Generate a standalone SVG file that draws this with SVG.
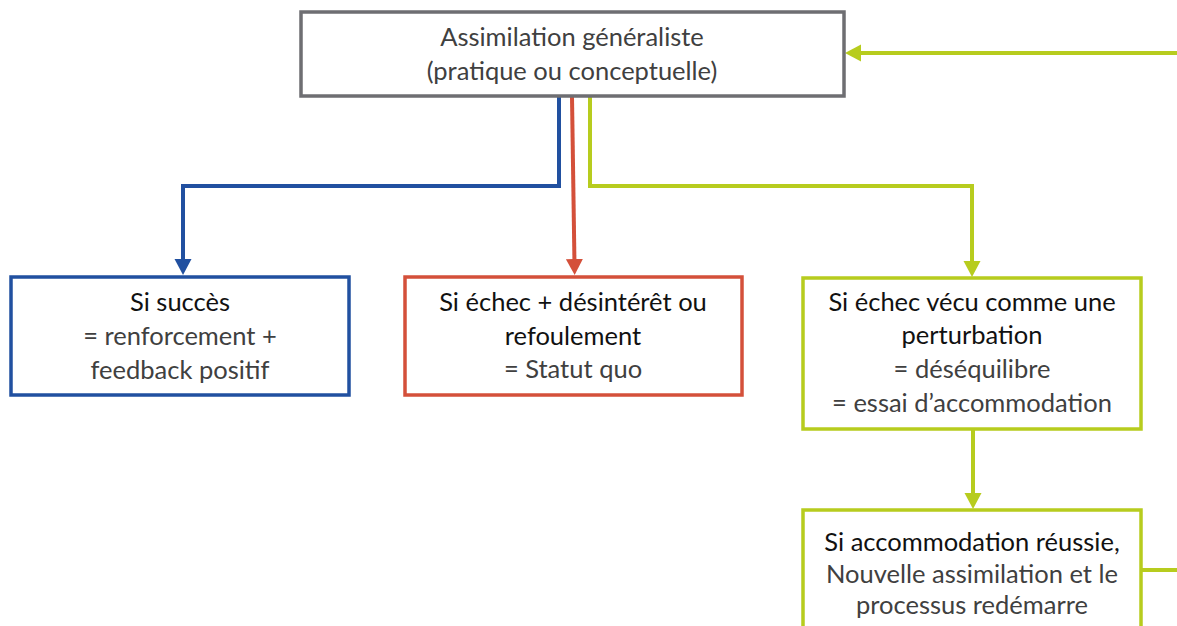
<svg xmlns="http://www.w3.org/2000/svg" width="1177" height="626" viewBox="0 0 1177 626">
<style>
.box{fill:#fff;stroke-width:3.5}
.t{font-family:Lato,"Liberation Sans",sans-serif;font-size:25.5px;text-anchor:middle;fill:#404040}
.h{fill:#111}
.c{fill:none;stroke-width:4}
</style>
<defs>
<marker id="ab" markerUnits="userSpaceOnUse" markerWidth="18" markerHeight="18" refX="6" refY="8.5" orient="auto"><path d="M0,0 L16,8.5 L0,17 z" fill="#2150a0"/></marker>
<marker id="ar" markerUnits="userSpaceOnUse" markerWidth="18" markerHeight="18" refX="6" refY="8.5" orient="auto"><path d="M0,0 L16,8.5 L0,17 z" fill="#d4503a"/></marker>
<marker id="ag" markerUnits="userSpaceOnUse" markerWidth="18" markerHeight="18" refX="6" refY="8.5" orient="auto"><path d="M0,0 L16,8.5 L0,17 z" fill="#b7cc1e"/></marker>
</defs>
<rect width="1177" height="626" fill="#fff"/>
<g id="connectors">
<path class="c" stroke="#2150a0" d="M559,97 V186 H183 V265" marker-end="url(#ab)"/>
<path class="c" stroke="#d4503a" d="M572,97 L574.5,265" marker-end="url(#ar)"/>
<path class="c" stroke="#b7cc1e" d="M590,97 V186 H972 V267" marker-end="url(#ag)"/>
<path class="c" stroke="#b7cc1e" d="M973,430 V499" marker-end="url(#ag)"/>
<path class="c" stroke="#b7cc1e" d="M1177,53 H855" marker-end="url(#ag)"/>
<path class="c" stroke="#b7cc1e" d="M1141,570 H1177"/>
</g>
<g id="n-top">
<rect class="box" x="301" y="12" width="543" height="84" stroke="#6e6e72"/>
<text class="t" x="572" y="46">Assimilation généraliste</text>
<text class="t" x="572" y="80">(pratique ou conceptuelle)</text>
</g>
<g id="n-succes">
<rect class="box" x="11" y="277" width="338" height="118" stroke="#2150a0"/>
<text class="t h" x="180" y="311">Si succès</text>
<text class="t" x="180" y="345">= renforcement +</text>
<text class="t" x="180" y="379">feedback positif</text>
</g>
<g id="n-echec">
<rect class="box" x="405" y="277" width="337" height="118" stroke="#d4503a"/>
<text class="t h" x="573" y="311">Si échec + désintérêt ou</text>
<text class="t h" x="573" y="345">refoulement</text>
<text class="t" x="573" y="378">= Statut quo</text>
</g>
<g id="n-perturbation">
<rect class="box" x="803" y="278" width="338" height="151" stroke="#b7cc1e"/>
<text class="t h" x="972" y="311">Si échec vécu comme une</text>
<text class="t h" x="972" y="344">perturbation</text>
<text class="t" x="972" y="378">= déséquilibre</text>
<text class="t" x="972" y="412">= essai d’accommodation</text>
</g>
<g id="n-reussie">
<rect class="box" x="803" y="510" width="338" height="140" stroke="#b7cc1e"/>
<text class="t h" x="972" y="551">Si accommodation réussie,</text>
<text class="t" x="972" y="583">Nouvelle assimilation et le</text>
<text class="t" x="972" y="614">processus redémarre</text>
</g>
</svg>
